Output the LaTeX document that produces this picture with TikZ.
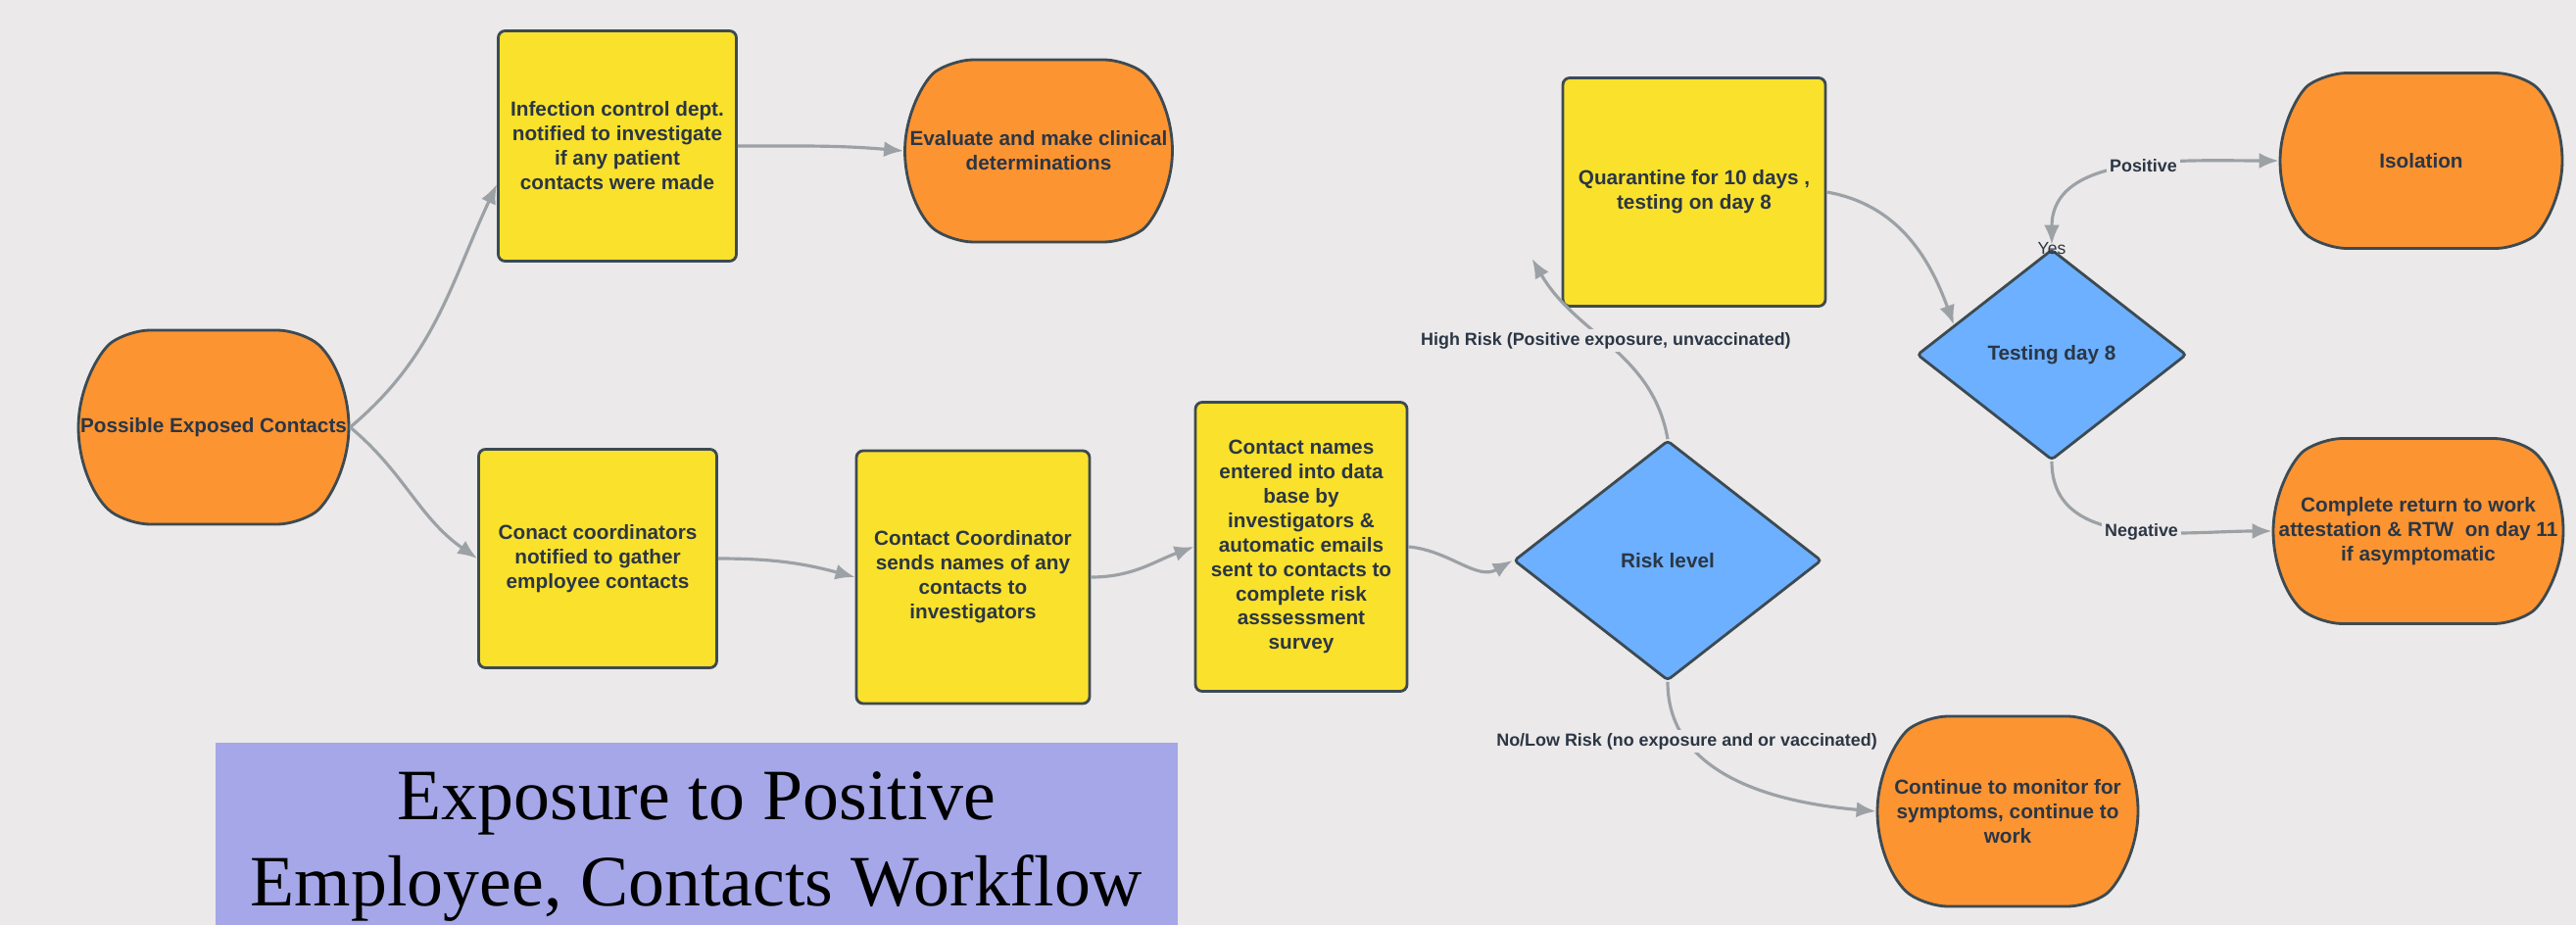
\documentclass[tikz,border=0pt]{standalone}
\usepackage{fontspec}
\setmainfont{Liberation Serif}
\setsansfont{Liberation Sans}
\usetikzlibrary{shapes.geometric,shapes.misc,arrows.meta}

\definecolor{bgcol}{HTML}{EBE9E9}
\definecolor{boxyellow}{HTML}{FAE12C}
\definecolor{boxorange}{HTML}{FC9432}
\definecolor{boxblue}{HTML}{6CB0FF}
\definecolor{edgecol}{HTML}{3D4A52}
\definecolor{linecol}{HTML}{9CA1A6}
\definecolor{txtcol}{HTML}{2B3645}
\definecolor{titlecol}{HTML}{A5A7E8}

\begin{document}
\begin{tikzpicture}[>={Latex[length=2mm,width=1.6mm]},
	boxfont/.style={font=\sffamily\bfseries\fontsize{5.9}{7.1}\selectfont, text=txtcol, align=center},
	taskbox/.style={boxfont, draw=edgecol, line width=0.8pt, fill=boxyellow, rounded corners=2pt, inner sep=2pt},
	endbox/.style={boxfont, rounded rectangle, rounded rectangle arc length=110, rounded corners=6pt, draw=edgecol, line width=0.8pt, fill=boxorange, inner sep=2pt},
	decide/.style={boxfont, diamond, draw=edgecol, line width=0.8pt, fill=boxblue, rounded corners=1pt, inner sep=0pt},
	flow/.style={->, draw=linecol, line width=0.9pt},
	flowlabel/.style={fill=bgcol, text=txtcol, font=\sffamily\bfseries\fontsize{5.1}{6}\selectfont, inner sep=1pt},
	yeslabel/.style={text=txtcol, font=\sffamily\fontsize{5}{6}\selectfont, inner sep=0pt}]

\useasboundingbox (0,0) rectangle (26.29,-9.44);
\fill[bgcol] (0,0) rectangle (26.29,-9.44);

% title
\fill[titlecol] (2.20,-7.58) rectangle (12.02,-9.44);
\node[font=\fontsize{21}{25}\selectfont, align=center, inner sep=0pt] (title) at (7.11,-8.64) {Exposure to Positive\\Employee, Contacts Workflow};

\node[endbox, minimum width=2.90cm, minimum height=1.98cm] (exposed) at (2.18,-4.36) {Possible Exposed Contacts};

\node[taskbox, minimum width=2.43cm, minimum height=2.35cm] (infection) at (6.30,-1.49) {Infection control dept.\\notified to investigate\\if any patient\\contacts were made};
\draw [flow] (exposed.east) to[out=40,in=245] ([yshift=-0.39cm]infection.west);

\node[endbox, minimum width=2.87cm, minimum height=1.86cm] (evaluate) at (10.60,-1.54) {Evaluate and make clinical\\determinations};
\draw [flow] (infection.east) to[out=0,in=175] (evaluate.west);

\node[taskbox, minimum width=2.43cm, minimum height=2.23cm] (coords) at (6.10,-5.70) {Conact coordinators\\notified to gather\\employee contacts};
\draw [flow] (exposed.east) to[out=-40,in=145] (coords.west);

\node[taskbox, minimum width=2.38cm, minimum height=2.58cm] (sends) at (9.93,-5.89) {Contact Coordinator\\sends names of any\\contacts to\\investigators};
\draw [flow] (coords.east) to[out=0,in=165] (sends.west);

\node[taskbox, minimum width=2.16cm, minimum height=2.95cm] (names) at (13.28,-5.58) {Contact names\\entered into data\\base by\\investigators \&\\automatic emails\\sent to contacts to\\complete risk\\asssessment\\survey};
\draw [flow] (sends.east) to[out=0,in=200] (names.west);

\node[decide, minimum width=3.14cm, minimum height=2.45cm] (risk) at (17.02,-5.72) {Risk level};
\draw [flow] (names.east) to[out=-5,in=210] (risk.west);

\node[taskbox, minimum width=2.68cm, minimum height=2.33cm] (quarantine) at (17.29,-1.96) {Quarantine for 10 days ,\\testing on day 8};
\draw [flow] (risk.north) to[out=100,in=-60] node[flowlabel,pos=0.53] (highrisk) {High Risk (Positive exposure, unvaccinated)} ([xshift=-0.3cm,yshift=-0.68cm]quarantine.west);

\node[decide, minimum width=2.75cm, minimum height=2.15cm] (testing) at (20.94,-3.62) {Testing day 8};
\draw [flow] (quarantine.east) to[out=-10,in=110] (testing.163);

\node[endbox, minimum width=3.02cm, minimum height=1.79cm] (isolation) at (24.71,-1.64) {Isolation};
\draw [flow,<->,shorten <=1pt] (testing.north) to[out=90,in=180] node[flowlabel,pos=0.55] (positive) {Positive} node[yeslabel,pos=0] (yes) {Yes} (isolation.west);

\node[endbox, minimum width=3.10cm, minimum height=1.89cm] (complete) at (24.68,-5.42) {Complete return to work\\attestation \& RTW~ on day 11\\if asymptomatic};
\draw [flow] (testing.south) to[out=-90,in=180] node[flowlabel,pos=0.55] (negative) {Negative} (complete.west);

\node[endbox, minimum width=2.80cm, minimum height=1.94cm] (monitor) at (20.49,-8.28) {Continue to monitor for\\symptoms, continue to\\work};
\draw [flow] (risk.south) to[out=-90,in=175] node[flowlabel,pos=0.25] (lowrisk) {No/Low Risk (no exposure and or vaccinated)} (monitor.west);

\end{tikzpicture}
\end{document}
